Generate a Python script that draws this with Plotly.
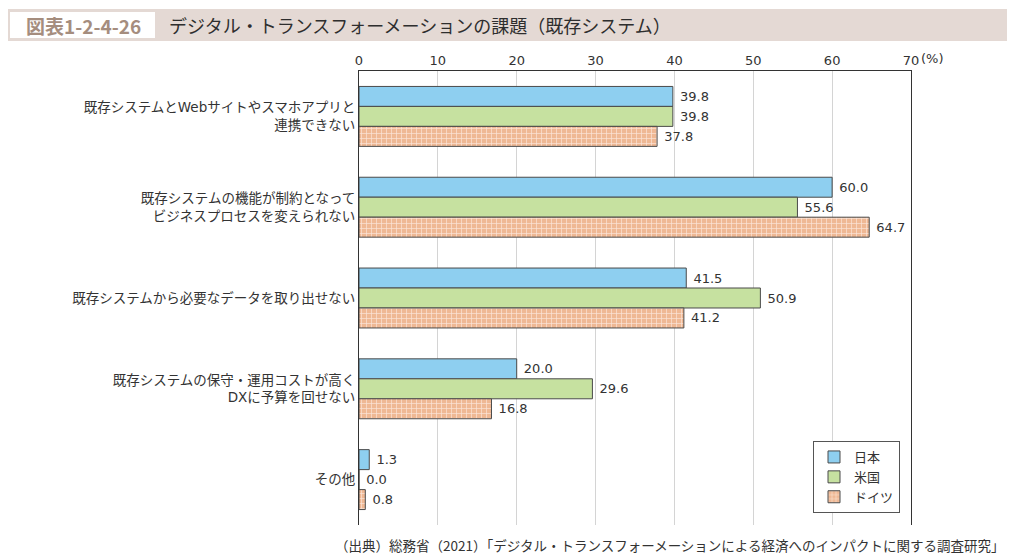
import plotly.graph_objects as go

categories = [
    "既存システムとWebサイトやスマホアプリと<br>連携できない",
    "既存システムの機能が制約となって<br>ビジネスプロセスを変えられない",
    "既存システムから必要なデータを取り出せない",
    "既存システムの保守・運用コストが高く<br>DXに予算を回せない",
    "その他",
]
japan = [39.8, 60.0, 41.5, 20.0, 1.3]
usa = [39.8, 55.6, 50.9, 29.6, 0.0]
germany = [37.8, 64.7, 41.2, 16.8, 0.8]
series_names = ["日本", "米国", "ドイツ"]
tick_vals = [0, 10, 20, 30, 40, 50, 60, 70]
tick_text = ["0", "10", "20", "30", "40", "50", "60", "70"]

FONT = "DejaVu Sans, Noto Sans CJK JP"
JFONT = "Noto Sans CJK JP"
TXT = "#333333"

fig = go.Figure()
common = dict(orientation="h", textposition="outside", cliponaxis=False,
              textfont=dict(size=13, color=TXT, family=FONT))
fig.add_trace(go.Bar(y=categories, x=japan, name=series_names[0],
                     text=[f" {v:.1f}" for v in japan],
                     marker=dict(color="#8ecff0", line=dict(color="#4a4a4a", width=1)),
                     **common))
fig.add_trace(go.Bar(y=categories, x=usa, name=series_names[1],
                     text=[f" {v:.1f}" for v in usa],
                     marker=dict(color="#c6e1a0", line=dict(color="#4a4a4a", width=1)),
                     **common))
fig.add_trace(go.Bar(y=categories, x=germany, name=series_names[2],
                     text=[f" {v:.1f}" for v in germany],
                     marker=dict(color="#efba98", line=dict(color="#4a4a4a", width=1),
                                 pattern=dict(shape="+", fgcolor="#fbe6da", bgcolor="#efb894",
                                              size=5, solidity=0.25, fillmode="replace")),
                     **common))

L, R, T, B = 359, 911, 71, 525
W, H = 1015, 560

def px(x):
    return (x - L) / (R - L)

def py(y):
    return (B - y) / (B - T)

shapes = [
    dict(type="rect", xref="paper", yref="paper", x0=px(8), x1=px(1007), y0=py(41), y1=py(9),
         fillcolor="#e4d9d4", line=dict(width=0), layer="below"),
    dict(type="rect", xref="paper", yref="paper", x0=px(10), x1=px(155), y0=py(38), y1=py(12),
         fillcolor="#ffffff", line=dict(width=0), layer="below"),
]

annotations = [
    dict(text="<b>図表1-2-4-26</b>", xref="paper", yref="paper", x=px(83), y=py(25),
         xanchor="center", yanchor="middle", showarrow=False,
         font=dict(size=19, color="#a58d7e", family=JFONT)),
    dict(text="デジタル・トランスフォーメーションの課題（既存システム）", xref="paper", yref="paper",
         x=px(167), y=py(25), xanchor="left", yanchor="middle", showarrow=False,
         font=dict(size=18, color="#2e2e2e", family=JFONT)),
    dict(text="(%)", xref="paper", yref="paper", x=px(919), y=py(58),
         xanchor="left", yanchor="middle", showarrow=False,
         font=dict(size=13, color=TXT, family=FONT)),
    dict(text="（出典）総務省（2021）「デジタル・トランスフォーメーションによる経済へのインパクトに関する調査研究」",
         xref="paper", yref="paper", x=px(1006), y=py(545), xanchor="right", yanchor="middle",
         showarrow=False, font=dict(size=13.5, color=TXT, family=JFONT)),
]

fig.update_layout(
    width=W, height=H,
    margin=dict(l=L, r=W - R, t=T, b=H - B),
    paper_bgcolor="white", plot_bgcolor="white",
    barmode="group", bargap=0.34, bargroupgap=0.0,
    font=dict(family=FONT, color=TXT, size=13),
    showlegend=True,
    legend=dict(x=px(813), y=py(441), xanchor="left", yanchor="top",
                bgcolor="white", bordercolor="#555555", borderwidth=1,
                font=dict(size=13, color=TXT, family=JFONT), traceorder="normal",
                itemwidth=30, tracegroupgap=0),
    shapes=shapes, annotations=annotations,
)
fig.update_xaxes(side="top", range=[0, 70], tickvals=tick_vals, ticktext=tick_text,
                 showgrid=True, gridcolor="#d4d4d4", gridwidth=1,
                 showline=True, linecolor="#333333", linewidth=1,
                 ticks="", tickfont=dict(size=13, color=TXT, family=FONT), zeroline=False)
fig.update_yaxes(autorange="reversed", showline=True, mirror=True, linecolor="#333333", linewidth=1,
                 ticks="", tickfont=dict(size=13.5, color=TXT, family=FONT), showgrid=False)

fig.write_html("out.html", post_script="document.body.style.margin='0';",
               config={"displayModeBar": False})
